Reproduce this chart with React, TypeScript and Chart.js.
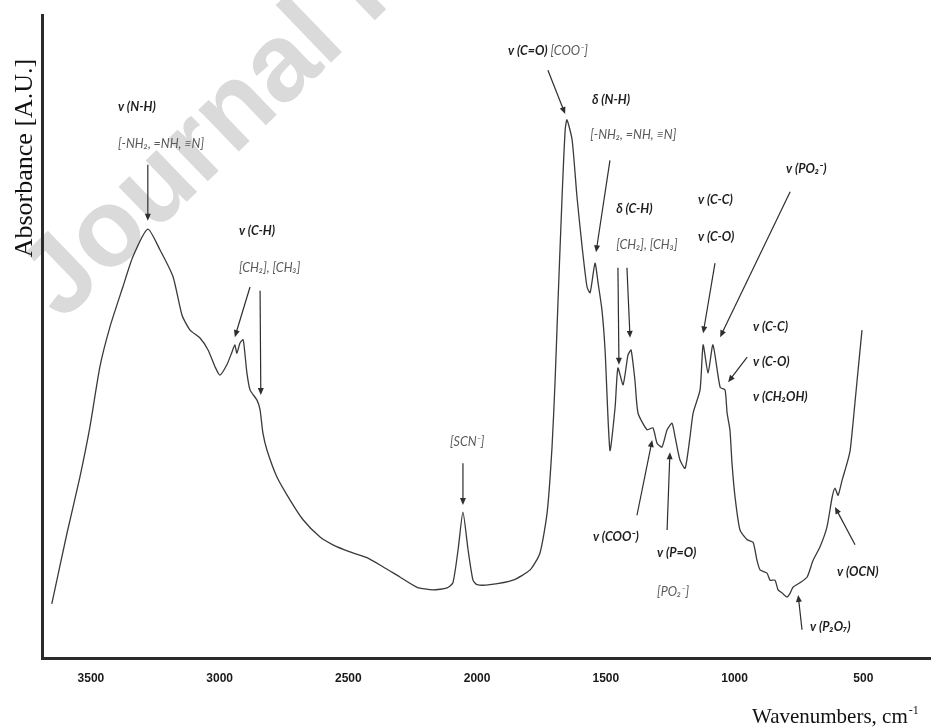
import React, { useEffect, useRef } from "react";
import { Chart, registerables } from "chart.js";

Chart.register(...registerables);

// ---- spectrum data (wavenumber, absorbance in arbitrary units) ----
const wavenumbers = [
  3652, 3593, 3543, 3504, 3465, 3426, 3376, 3337, 3279, 3232, 3181, 3146, 3115, 3077, 3045, 3018,
  2999, 2972, 2952, 2941, 2933, 2921, 2909, 2902, 2894, 2882, 2855, 2843, 2832, 2816, 2777, 2727,
  2676, 2610, 2560, 2494, 2428, 2366, 2300, 2233, 2171, 2117, 2094, 2074, 2055, 2035, 2016, 2000,
  1950, 1861, 1794, 1756, 1728, 1709, 1697, 1686, 1670, 1658, 1651, 1631, 1612, 1592, 1573, 1561,
  1542, 1530, 1515, 1503, 1484, 1464, 1453, 1433, 1414, 1402, 1387, 1375, 1340, 1317, 1301, 1282,
  1262, 1243, 1231, 1212, 1192, 1173, 1161, 1134, 1122, 1103, 1084, 1056, 1037, 1029, 1018, 1010,
  998, 979, 951, 928, 913, 901, 874, 862, 843, 831, 815, 796, 784, 773, 746, 718,
  695, 668, 641, 621, 610, 598, 582, 563, 551, 540, 524, 505,
];
const absorbance = [
  8.4, 19.4, 28.1, 35.9, 45.3, 51.5, 57.7, 62.4, 66.7, 63.5, 59.3, 53.3, 51.0, 49.8, 47.9, 45.3,
  44.0, 45.6, 47.6, 48.7, 47.4, 49.0, 49.5, 47.4, 44.3, 41.7, 40.1, 38.6, 35.0, 32.3, 28.1, 24.6,
  21.5, 18.8, 17.6, 16.5, 15.6, 14.2, 12.6, 11.0, 10.6, 10.9, 11.7, 16.8, 22.7, 16.8, 12.1, 11.4,
  11.4, 12.1, 13.7, 16.3, 22.6, 32.8, 43.2, 55.2, 71.7, 82.1, 83.7, 80.6, 71.7, 63.9, 57.7, 56.8,
  61.4, 58.3, 54.1, 47.9, 32.3, 39.0, 45.1, 42.5, 47.1, 47.9, 43.2, 38.1, 35.5, 35.8, 33.4, 32.8,
  35.5, 36.5, 34.4, 30.8, 29.5, 34.4, 38.1, 41.7, 48.7, 44.3, 48.7, 42.1, 41.7, 38.1, 35.5, 30.3,
  25.0, 19.9, 18.4, 18.0, 15.2, 13.7, 13.2, 12.1, 12.1, 10.6, 10.1, 9.5, 10.1, 11.0, 11.7, 12.6,
  15.2, 17.3, 20.4, 25.0, 26.4, 25.3, 27.7, 30.3, 32.3, 36.5, 43.2, 51.0,
];
const xTickValues = [3500, 3000, 2500, 2000, 1500, 1000, 500];
const xRange = [237, 3690];
const yRange = [0, 100];

// ---- band annotations: text segments ("b" = bold band name, "n" = grey note) ----
const labelSegments: [string, string][][] = [
  [["b", "v (N-H)"]],
  [["n", "[-NH\u2082, =NH, \u2261N]"]],
  [["b", "v (C-H)"]],
  [["n", "[CH\u2082], [CH\u2083]"]],
  [["b", "v (C=O)"], ["n", " [COO\u207B]"]],
  [["b", "\u03B4 (N-H)"]],
  [["n", "[-NH\u2082, =NH, \u2261N]"]],
  [["b", "\u03B4 (C-H)"]],
  [["n", "[CH\u2082], [CH\u2083]"]],
  [["b", "v (C-C)"]],
  [["b", "v (C-O)"]],
  [["b", "v (PO\u2082\u207B)"]],
  [["b", "v (C-C)"]],
  [["b", "v (C-O)"]],
  [["b", "v (CH\u2082OH)"]],
  [["n", "[SCN\u207B]"]],
  [["b", "v (COO\u207B)"]],
  [["b", "v (P=O)"]],
  [["n", "[PO\u2082\u207B]"]],
  [["b", "v (P\u2082O\u2087)"]],
  [["b", "v (OCN)"]],
];
const labelWn = [3395, 3395, 2925, 2925, 1880, 1554, 1561, 1460, 1460, 1142, 1142, 800, 928, 928, 928, 2105, 1550, 1301, 1301, 707, 602];
const labelAbs = [85.7, 79.9, 66.4, 60.7, 94.4, 86.8, 81.3, 69.8, 64.2, 71.2, 65.5, 76.0, 51.5, 46.0, 40.6, 33.6, 18.8, 16.3, 10.3, 4.8, 13.4];

const arrowFromWn = [3279, 2882, 2843, 1725, 1484, 1453, 1418, 1076, 784, 951, 2055, 1379, 1262, 738, 532];
const arrowFromAbs = [76.7, 57.7, 57.1, 91.4, 77.4, 60.7, 60.7, 61.4, 72.5, 46.8, 30.3, 22.2, 19.9, 4.4, 17.6];
const arrowToWn = [3279, 2941, 2840, 1658, 1538, 1449, 1406, 1122, 1056, 1025, 2055, 1320, 1251, 753, 610];
const arrowToAbs = [68.0, 49.9, 40.9, 84.6, 63.1, 45.6, 49.8, 50.5, 49.9, 42.9, 23.8, 33.9, 32.0, 9.8, 23.5];

const xTitle = "Wavenumbers, cm";
const xTitleSup = "-1";
const yTitle = "Absorbance [A.U.]";
const watermark = "Journal Pre-proof";

const BOLD_FONT = "italic bold 12.5px Lato, 'Liberation Sans', sans-serif";
const NOTE_FONT = "italic 12.5px Lato, 'Liberation Sans', sans-serif";

const annotationPlugin = {
  id: "ftirAnnotations",
  beforeDraw(chart: any) {
    const ctx = chart.ctx;
    ctx.save();
    const size = 110;
    ctx.font = `bold ${size}px 'Liberation Sans', Arial, sans-serif`;
    ctx.fillStyle = "#dadada";
    ctx.translate(110, 236);
    ctx.rotate((-44 * Math.PI) / 180);
    const wJ = ctx.measureText("J").width;
    const wo = ctx.measureText("o").width;
    ctx.textBaseline = "alphabetic";
    ctx.fillText(watermark, -(wJ + wo / 2), 0.26 * size);
    ctx.restore();
  },
  afterDatasetsDraw(chart: any) {
    const ctx = chart.ctx;
    const xs = chart.scales.x;
    const ys = chart.scales.y;
    ctx.save();
    // arrows
    ctx.strokeStyle = "#2e2e2e";
    ctx.fillStyle = "#2e2e2e";
    ctx.lineWidth = 1.2;
    for (let i = 0; i < arrowFromWn.length; i++) {
      const x1 = xs.getPixelForValue(arrowFromWn[i]);
      const y1 = ys.getPixelForValue(arrowFromAbs[i]);
      const x2 = xs.getPixelForValue(arrowToWn[i]);
      const y2 = ys.getPixelForValue(arrowToAbs[i]);
      const ang = Math.atan2(y2 - y1, x2 - x1);
      const hl = 7;
      const hw = 3;
      ctx.beginPath();
      ctx.moveTo(x1, y1);
      ctx.lineTo(x2 - Math.cos(ang) * hl * 0.8, y2 - Math.sin(ang) * hl * 0.8);
      ctx.stroke();
      ctx.beginPath();
      ctx.moveTo(x2, y2);
      ctx.lineTo(x2 - Math.cos(ang) * hl - Math.sin(ang) * hw, y2 - Math.sin(ang) * hl + Math.cos(ang) * hw);
      ctx.lineTo(x2 - Math.cos(ang) * hl + Math.sin(ang) * hw, y2 - Math.sin(ang) * hl - Math.cos(ang) * hw);
      ctx.closePath();
      ctx.fill();
    }
    // labels
    ctx.textBaseline = "middle";
    ctx.textAlign = "left";
    for (let i = 0; i < labelSegments.length; i++) {
      let x = xs.getPixelForValue(labelWn[i]);
      const y = ys.getPixelForValue(labelAbs[i]);
      for (const [kind, text] of labelSegments[i]) {
        ctx.font = kind === "b" ? BOLD_FONT : NOTE_FONT;
        ctx.fillStyle = kind === "b" ? "#1e1e1e" : "#5a5a5a";
        ctx.fillText(text, x, y);
        x += ctx.measureText(text).width;
      }
    }
    ctx.restore();
  },
  afterDraw(chart: any) {
    const ctx = chart.ctx;
    ctx.save();
    ctx.fillStyle = "#111";
    // x title
    ctx.font = "21px 'Liberation Serif', 'Times New Roman', serif";
    ctx.textBaseline = "alphabetic";
    ctx.textAlign = "left";
    const w = ctx.measureText(xTitle).width;
    const xt = 752;
    ctx.fillText(xTitle, xt, 723);
    ctx.font = "12px 'Liberation Serif', 'Times New Roman', serif";
    ctx.fillText(xTitleSup, xt + w + 1, 714);
    // y title
    ctx.font = "26px 'Liberation Serif', 'Times New Roman', serif";
    ctx.translate(25, 158);
    ctx.rotate(-Math.PI / 2);
    ctx.textAlign = "center";
    ctx.textBaseline = "middle";
    ctx.fillText(yTitle, 0, 0);
    ctx.restore();
  },
};

export default function App() {
  const canvasRef = useRef<HTMLCanvasElement | null>(null);

  useEffect(() => {
    document.body.style.margin = "0";
    const canvas = canvasRef.current;
    if (!canvas) return;
    const points = wavenumbers.map((wn, i) => ({ x: wn, y: absorbance[i] }));
    const chart = new Chart(canvas, {
      type: "line",
      data: {
        datasets: [
          {
            data: points,
            borderColor: "#3a3a3a",
            borderWidth: 1.3,
            pointRadius: 0,
            tension: 0.2,
            fill: false,
          },
        ],
      },
      options: {
        animation: false,
        responsive: false,
        devicePixelRatio: 1,
        layout: { padding: { top: 15, left: 0, right: 0, bottom: 0 } },
        plugins: { legend: { display: false }, tooltip: { enabled: false } },
        scales: {
          x: {
            type: "linear",
            reverse: true,
            min: xRange[0],
            max: xRange[1],
            grid: { display: false, drawTicks: false },
            border: { display: true, color: "#2b2b2b", width: 3 },
            afterBuildTicks: (scale: any) => {
              scale.ticks = xTickValues.map((v) => ({ value: v }));
            },
            afterFit: (scale: any) => {
              scale.height = 69;
            },
            ticks: {
              autoSkip: false,
              maxRotation: 0,
              padding: 13,
              color: "#1a1a1a",
              font: { family: "'Liberation Sans', Arial, sans-serif", size: 12, weight: "bold" },
              callback: (v: any) => String(v),
            },
          },
          y: {
            type: "linear",
            min: yRange[0],
            max: yRange[1],
            grid: { display: false, drawTicks: false },
            border: { display: true, color: "#2b2b2b", width: 3 },
            ticks: { display: false },
            afterFit: (scale: any) => {
              scale.width = 42;
            },
          },
        },
      },
      plugins: [annotationPlugin],
    });
    return () => chart.destroy();
  }, []);

  return (
    <div style={{ position: "absolute", left: 0, top: 0, width: 931, height: 727, background: "#fff" }}>
      <canvas ref={canvasRef} width={931} height={727} style={{ width: 931, height: 727, display: "block" }} />
    </div>
  );
}
